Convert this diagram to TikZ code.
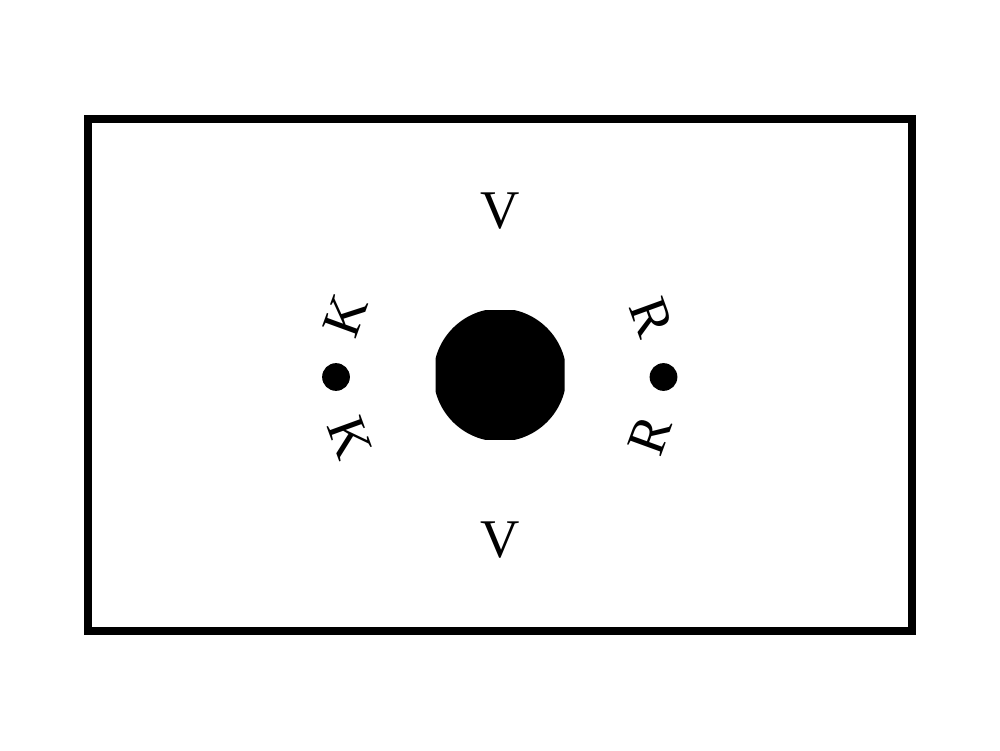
\documentclass[tikz,border=0pt]{standalone}
\usepackage{fontspec}
\setmainfont{Liberation Serif}
\begin{document}
\begin{tikzpicture}[every node/.style={font=\fontsize{31}{31}\selectfont,inner sep=0pt},
  dot/.style={circle,fill=black,minimum size=0.555cm}]
  \useasboundingbox (0,0) rectangle (20,15);
  \draw[line width=0.17cm] (1.76,2.38) rectangle (18.24,12.62);
  \begin{scope}
    \clip (8.71,6.21) rectangle (11.29,8.79);
    \fill (10,7.5) circle (1.33);
  \end{scope}
  \node[dot] (kdot) at (6.72,7.46) {};
  \node[dot] (rdot) at (13.27,7.46) {};
  \node (vtop) at (10.01,10.78) {V};
  \node (vbot) at (10,4.2) {V};
  \node[rotate=70] (ktop) at (6.91,8.69) {K};
  \node[rotate=-70] (kbot) at (7.0,6.24) {K};
  \node[rotate=-70] (rtop) at (13.02,8.65) {R};
  \node[rotate=70] (rbot) at (13.0,6.29) {R};
\end{tikzpicture}
\end{document}
